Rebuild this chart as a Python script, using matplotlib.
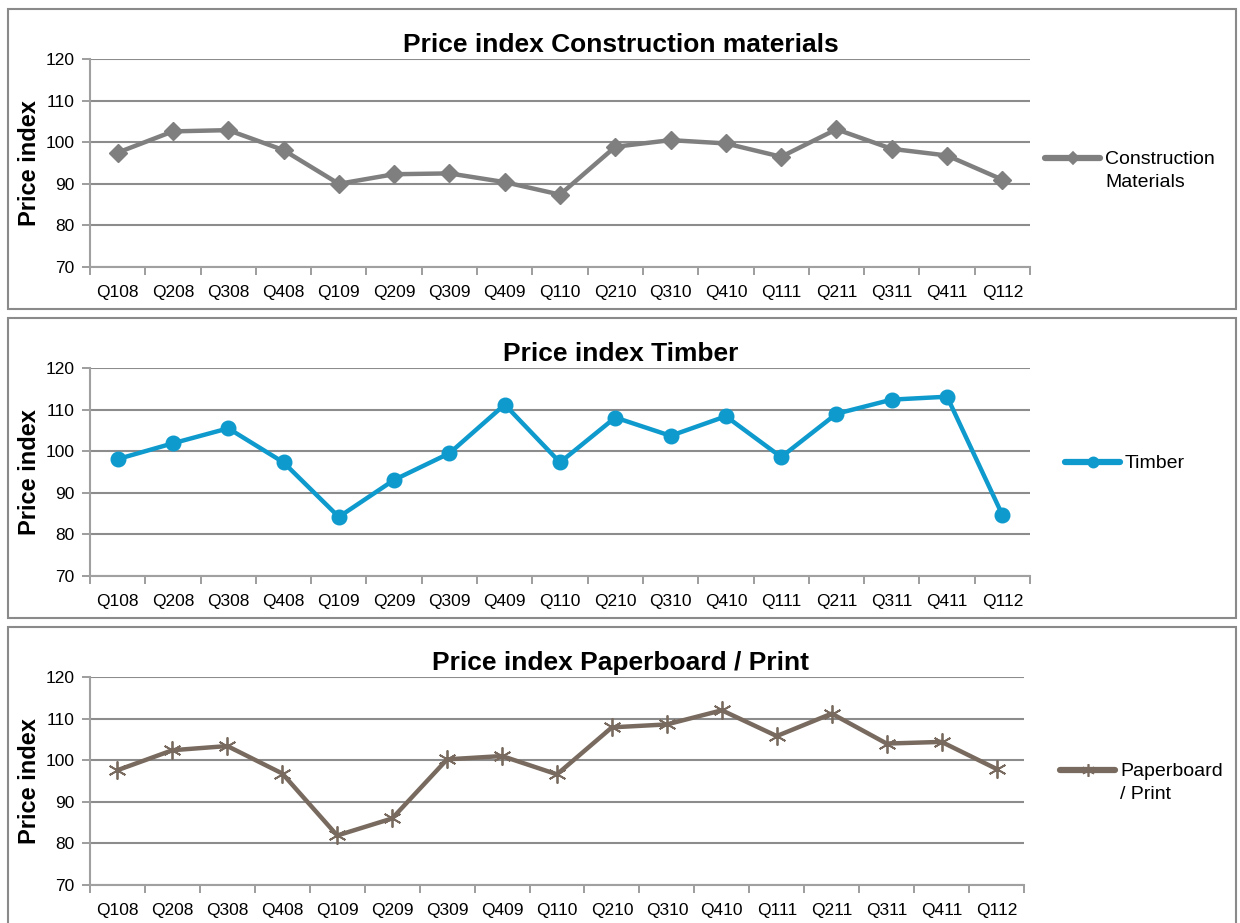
import matplotlib.pyplot as plt
import matplotlib.patches as patches
from matplotlib.lines import Line2D
import numpy as np

plt.rcParams['font.family'] = ['Liberation Sans', 'DejaVu Sans']

quarters = ['Q108', 'Q208', 'Q308', 'Q408', 'Q109', 'Q209', 'Q309', 'Q409', 'Q110',
            'Q210', 'Q310', 'Q410', 'Q111', 'Q211', 'Q311', 'Q411', 'Q112']

construction = [97.5, 102.6, 102.9, 98.1, 90.0, 92.3, 92.5, 90.4, 87.4,
                98.9, 100.5, 99.7, 96.5, 103.1, 98.4, 96.8, 91.0]
timber = [98.1, 101.9, 105.5, 97.3, 84.2, 93.1, 99.5, 111.2, 97.3,
          108.1, 103.7, 108.4, 98.6, 109.0, 112.4, 113.1, 84.7]
paperboard = [97.6, 102.4, 103.4, 96.8, 81.9, 86.0, 100.2, 101.0, 96.6,
              107.9, 108.6, 112.0, 105.8, 111.2, 104.0, 104.4, 97.9]

titles = ['Price index Construction materials', 'Price index Timber',
          'Price index Paperboard / Print']
labels = ['Construction\nMaterials', 'Timber', 'Paperboard\n/ Print']
series = [construction, timber, paperboard]
colors = ['#7f7f7f', '#0e9acd', '#786a5e']
markers = ['D', 'o', (6, 2, 0)]
msizes = [9, 10.5, 13]

W, H = 1240, 923
fig = plt.figure(figsize=(W / 100, H / 100), dpi=100)

# pixel layout of each panel
panel_top = [9, 318, 627]
plot_right = [1030, 1030, 1024]
legend_x = [1045, 1065, 1060]      # start of legend line
legend_y = [158, 462, 770]         # legend line height (first text line)

grid_col = '#8c8c8c'
x = np.arange(len(quarters))

for i in range(3):
    top = panel_top[i]
    # outer frame
    box = patches.Rectangle((8 / W, 1 - (top + 300) / H), 1228 / W, 300 / H,
                            transform=fig.transFigure, fill=False,
                            edgecolor='#8a8a8a', lw=1.5)
    fig.patches.append(box)

    y0 = top + 50
    y1 = top + 258
    ax = fig.add_axes([90 / W, 1 - y1 / H, (plot_right[i] - 90) / W, (y1 - y0) / H])
    ax.plot(x, series[i], color=colors[i], lw=3.2, marker=markers[i],
            markersize=msizes[i], markeredgewidth=1.3 if i == 2 else 1,
            markeredgecolor=colors[i], solid_capstyle='round')
    ax.set_xlim(-0.5, len(quarters) - 0.5)
    ax.set_ylim(70, 120)
    ax.set_yticks(range(70, 121, 10))
    ax.set_xticks(x)
    ax.set_xticklabels(quarters)
    ax.set_xticks(np.arange(-0.5, len(quarters), 1), minor=True)
    ax.tick_params(axis='x', which='major', length=0, pad=13, labelsize=12.5)
    ax.tick_params(axis='x', which='minor', length=6, width=1.2, color=grid_col)
    ax.tick_params(axis='y', length=6, width=1.2, color=grid_col, pad=5, labelsize=12.5)
    ax.grid(axis='y', color=grid_col, lw=1.5)
    ax.set_axisbelow(True)
    for s in ['top', 'right']:
        ax.spines[s].set_visible(False)
    for s in ['left', 'bottom']:
        ax.spines[s].set_color('#a0a0a0')
        ax.spines[s].set_linewidth(1.5)

    fig.text(621 / W, 1 - (top + 36) / H, titles[i], ha='center', va='center',
             fontsize=19, fontweight='bold')
    fig.text(29 / W, 1 - (y0 + y1) / 2 / H, 'Price index', rotation=90,
             ha='center', va='center', fontsize=17, fontweight='bold')

    # legend, drawn by hand so the line sits on the first text line
    lx, ly = legend_x[i], legend_y[i]
    fig.add_artist(Line2D([lx / W, (lx + 55) / W], [1 - ly / H, 1 - ly / H],
                          color=colors[i], lw=4.5, solid_capstyle='round'))
    fig.add_artist(Line2D([(lx + 27.5) / W], [1 - ly / H], color=colors[i],
                          marker=markers[i], markersize=msizes[i] * 0.7,
                          markeredgecolor=colors[i], markeredgewidth=1.2))
    fig.text((lx + 60) / W, 1 - (ly - 7) / H, labels[i], ha='left', va='top',
             fontsize=14, linespacing=1.48)

fig.savefig('out.png', dpi=100)
